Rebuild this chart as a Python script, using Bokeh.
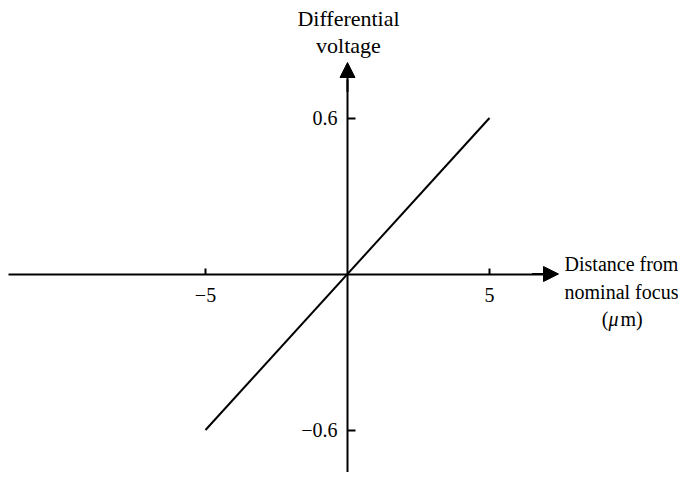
from bokeh.plotting import figure
from bokeh.models import LinearAxis, FixedTicker, Arrow, NormalHead, Label, Range1d
from bokeh.embed import file_html
from bokeh.resources import INLINE

# data
x_vals = [-5, 5]
y_vals = [-0.6, 0.6]
x_ticks = [-5, 5]
y_ticks = [-0.6, 0.6]
x_tick_labels = {-5: "\u22125", 5: "5"}
y_tick_labels = {-0.6: "\u22120.6", 0.6: "0.6"}
y_title = ["Differential", "voltage"]
x_title = ["Distance from", "nominal focus"]

FONT = "Liberation Serif"
W, H = 678, 472
PX_X, PX_Y = 28.4, 260.0
OX, OY = 347, 273.5
x0, x1 = -OX / PX_X, (W - OX) / PX_X
y0, y1 = (OY - H) / PX_Y, OY / PX_Y

p = figure(width=W, height=H, x_range=Range1d(x0, x1), y_range=Range1d(y0, y1),
           x_axis_type=None, y_axis_type=None, output_backend="svg",
           toolbar_location=None, min_border=0)
p.outline_line_color = None
p.xgrid.visible = False
p.ygrid.visible = False
p.background_fill_color = "white"
p.border_fill_color = "white"

xa = LinearAxis(fixed_location=0, ticker=FixedTicker(ticks=x_ticks),
                major_label_overrides=x_tick_labels,
                bounds=((8 - OX) / PX_X, 7.0))
xa.axis_line_width = 2
xa.major_tick_in = 6
xa.major_tick_out = 0
xa.major_tick_line_width = 2
xa.minor_tick_line_color = None
xa.major_label_text_font = FONT
xa.major_label_text_font_size = "20px"
xa.major_label_text_color = "black"
xa.major_label_standoff = 14
p.add_layout(xa, "below")

ya = LinearAxis(fixed_location=0, ticker=FixedTicker(ticks=y_ticks),
                major_label_overrides=y_tick_labels, bounds=(y0 - 0.05, 0.75))
ya.axis_line_width = 2
ya.major_tick_in = 8
ya.major_tick_out = 0
ya.major_tick_line_width = 2
ya.minor_tick_line_color = None
ya.major_label_text_font = FONT
ya.major_label_text_font_size = "20px"
ya.major_label_text_color = "black"
ya.major_label_standoff = 10
p.add_layout(ya, "left")

# arrows at ends of axes
p.add_layout(Arrow(end=NormalHead(size=15, fill_color="black", line_color="black"),
                   x_start=6.5, y_start=0, x_end=(558 - OX) / PX_X, y_end=0, line_width=2))
p.add_layout(Arrow(end=NormalHead(size=15, fill_color="black", line_color="black"),
                   x_start=0, y_start=0.7, x_end=0, y_end=(OY - 62) / PX_Y, line_width=2))

# data line
p.line(x_vals, y_vals, line_color="black", line_width=2)

def lab(txt, x, y, align="center", style="normal", size="20px"):
    p.add_layout(Label(x=x, y=H - y, x_units="screen", y_units="screen", text=txt,
                       text_font=FONT, text_font_size=size, text_align=align,
                       text_font_style=style, text_color="black",
                       text_baseline="middle"))

for txt, ry in zip(y_title, [18, 45]):
    lab(txt, 348, ry, size="22px")
for txt, ry in zip(x_title, [263, 291]):
    lab(txt, 621, ry)
lab("(", 608, 318, "right")
lab("\u03bc", 608, 318, "left", "italic")
lab("m)", 620, 318, "left")

open("out.html", "w").write(file_html(p, INLINE))
